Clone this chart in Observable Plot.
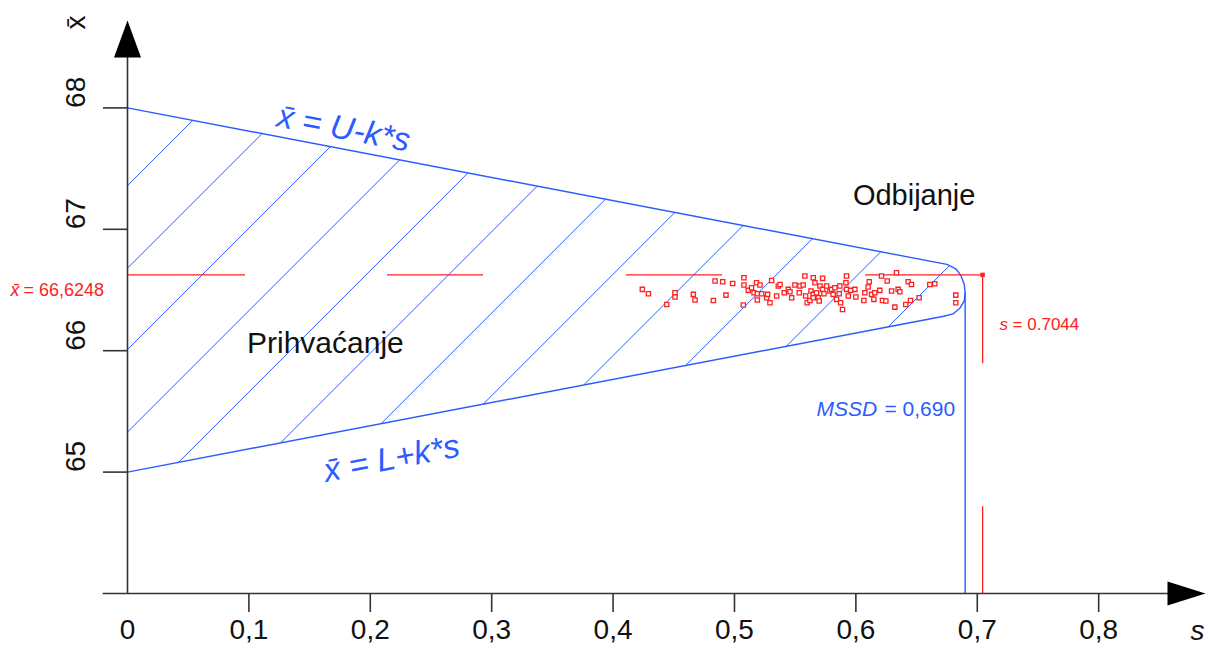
<!DOCTYPE html>
<html><head><meta charset="utf-8">
<script src="https://cdn.jsdelivr.net/npm/d3@7"></script>
<script src="https://cdn.jsdelivr.net/npm/@observablehq/plot@0.6"></script>
<style>body{margin:0;background:#fff}#chart svg{display:block}</style>
</head><body><div id="chart"></div>
<script>
// ---- data ----
const U = 68, L = 65, k = 1.91;
const mssd = 0.690;
const sObs = 0.7044, xbarObs = 66.6248;
const xTicks = [0, 0.1, 0.2, 0.3, 0.4, 0.5, 0.6, 0.7, 0.8];
const xTickLabels = ["0", "0,1", "0,2", "0,3", "0,4", "0,5", "0,6", "0,7", "0,8"];
const yTicks = [65, 66, 67, 68];
const sDomain = [0, 0.888];
const xbarDomain = [64, 68.72];
// rounded cap of acceptance region (s, x̄), from upper line end to lower line end
const capS = [0.675, 0.6823, 0.6866, 0.6893, 0.6900, 0.6893, 0.6858, 0.6800, 0.6724];
const capX = [66.711, 66.675, 66.618, 66.545, 66.478, 66.410, 66.352, 66.303, 66.284];
// hatch lines x̄ = c + slope*s
const hatchIntercepts = [67.36, 66.68, 66.01, 65.33, 64.66, 63.98, 63.31, 62.63, 61.96, 61.28, 60.61, 59.93];
const hatchSlope = 10;
// sample points (s, x̄)
const sampleS = [0.4241,0.4291,0.4510,0.4510,0.4442,0.4661,0.4675,0.4826,0.4840,0.4903,0.4930,0.4985,0.5078,0.5078,0.5073,0.5114,0.5141,0.5161,0.5182,0.5210,0.5188,0.5224,0.5188,0.5265,0.5273,0.5292,0.5306,0.5347,0.5361,0.5375,0.5410,0.5443,0.5457,0.5471,0.5498,0.5534,0.5539,0.5566,0.5580,0.5586,0.5599,0.5621,0.5630,0.5649,0.5663,0.5649,0.5649,0.5676,0.5690,0.5698,0.5704,0.5726,0.5737,0.5726,0.5759,0.5786,0.5800,0.5813,0.5841,0.5827,0.5868,0.5874,0.5863,0.5890,0.5923,0.5918,0.5923,0.5937,0.5956,0.5992,0.6000,0.6066,0.6074,0.6101,0.6110,0.6129,0.6148,0.6156,0.6197,0.6211,0.6219,0.6247,0.6258,0.6294,0.6321,0.6335,0.6348,0.6362,0.6411,0.6431,0.6458,0.6450,0.6521,0.6609,0.6650,0.6823,0.6823];
const sampleX = [66.505,66.469,66.477,66.442,66.381,66.464,66.417,66.414,66.574,66.568,66.458,66.554,66.601,66.541,66.376,66.497,66.519,66.477,66.560,66.541,66.469,66.469,66.417,66.436,66.464,66.395,66.579,66.450,66.533,66.546,66.477,66.505,66.486,66.436,66.541,66.477,66.533,66.541,66.615,66.450,66.395,66.414,66.491,66.601,66.560,66.464,66.436,66.477,66.436,66.409,66.533,66.505,66.469,66.596,66.533,66.491,66.505,66.464,66.423,66.519,66.533,66.395,66.469,66.340,66.615,66.560,66.505,66.450,66.497,66.505,66.442,66.414,66.477,66.524,66.568,66.464,66.423,66.477,66.497,66.615,66.414,66.409,66.574,66.491,66.359,66.642,66.505,66.486,66.381,66.568,66.546,66.414,66.436,66.546,66.552,66.458,66.395];

// ---- derived tables ----
const BLUE = "#2a5cff", RED = "#ff2020", AX = "#333";
const boundary = [{s: 0, x: U}];
capS.forEach((s, i) => boundary.push({s, x: capX[i]}));
boundary.push({s: 0, x: L});
const polygon = boundary.concat([{s: 0, x: U}]);

function clip(c) {
  const ts = [];
  for (let i = 0; i < polygon.length - 1; i++) {
    const a = polygon[i], b = polygon[i + 1];
    const fa = a.x - c - hatchSlope * a.s, fb = b.x - c - hatchSlope * b.s;
    if (fa === fb) continue;
    if ((fa <= 0 && fb >= 0) || (fa >= 0 && fb <= 0)) {
      const u = fa / (fa - fb);
      ts.push(a.s + u * (b.s - a.s));
    }
  }
  if (ts.length < 2) return null;
  const s1 = Math.min(...ts), s2 = Math.max(...ts);
  return {s1, x1: c + hatchSlope * s1, s2, x2: c + hatchSlope * s2};
}
const hatch = hatchIntercepts.map(clip).filter(d => d);
const samples = sampleS.map((s, i) => ({s, x: sampleX[i]})).filter(d => d.x != null);
const xt = xTicks.map((v, i) => ({v, t: xTickLabels[i]}));

const arrowUp = {draw(ctx) { ctx.moveTo(0, 0); ctx.lineTo(13.5, 37); ctx.lineTo(-13.5, 37); ctx.closePath(); }};
const arrowRight = {draw(ctx) { ctx.moveTo(0, 0); ctx.lineTo(-38, 12); ctx.lineTo(-38, -12); ctx.closePath(); }};
const ang = Math.atan(k * (121.4 / 1214)) * 180 / Math.PI;

const chart = Plot.plot({
  width: 1208, height: 650,
  marginLeft: 127, marginRight: 3, marginTop: 20, marginBottom: 57,
  style: {fontFamily: "'Liberation Sans', Arial, sans-serif", background: "#fff"},
  x: {domain: sDomain},
  y: {domain: xbarDomain},
  marks: [
    Plot.link(hatch, {x1: "s1", y1: "x1", x2: "s2", y2: "x2", stroke: BLUE, strokeWidth: 1}),
    Plot.line(boundary, {x: "s", y: "x", stroke: BLUE, strokeWidth: 1.4, curve: "linear"}),
    Plot.ruleX([mssd], {y1: xbarDomain[0], y2: capX[4], stroke: BLUE, strokeWidth: 1.4}),
    Plot.ruleY([xbarObs], {x1: 0, x2: sObs, stroke: RED, strokeWidth: 1.3, strokeDasharray: "118,142,96,143,96,143,117,300"}),
    Plot.ruleX([sObs], {y1: xbarObs, y2: xbarDomain[0], stroke: RED, strokeWidth: 1.3, strokeDasharray: "89,143,100"}),
    Plot.dot(samples, {x: "s", y: "x", symbol: "square", r: 2.4, stroke: RED, strokeWidth: 1.3, fill: "#fff"}),
    Plot.dot([{s: sObs, x: xbarObs}], {x: "s", y: "x", symbol: "square", r: 2.5, fill: RED}),
    // axes
    Plot.ruleX([0], {y1: xbarDomain[0], y2: xbarDomain[1] - 0.2, stroke: AX, strokeWidth: 1.6}),
    Plot.ruleY([xbarDomain[0]], {x1: -0.02, x2: sDomain[1] - 0.02, stroke: AX, strokeWidth: 1.6}),
    Plot.dot([{s: 0, x: xbarDomain[1]}], {x: "s", y: "x", symbol: arrowUp, r: 5, fill: "#000", stroke: "none"}),
    Plot.dot([{s: sDomain[1], x: xbarDomain[0]}], {x: "s", y: "x", symbol: arrowRight, r: 5, fill: "#000", stroke: "none"}),
    Plot.axisX(xTicks.filter(d => d > 0), {tickSize: 19, tickFormat: () => "", stroke: AX, strokeWidth: 1.6}),
    Plot.axisY(yTicks, {tickSize: 24, tickFormat: () => "", stroke: AX, strokeWidth: 1.6}),
    Plot.text(xt, {x: "v", text: "t", frameAnchor: "bottom", dy: 45, fontSize: 28, fill: "#111"}),
    Plot.text(yTicks, {y: d => d, text: d => String(d), frameAnchor: "left", dx: -51, rotate: -90, fontSize: 28, fill: "#111"}),
    Plot.text(["x\u0304"], {frameAnchor: "top-left", dx: -51, dy: 2, rotate: -90, textAnchor: "middle", lineAnchor: "middle", fontSize: 28, fill: "#111"}),
    Plot.text(["s"], {frameAnchor: "bottom-right", dx: -8, dy: 46, textAnchor: "middle", fontSize: 28, fontStyle: "italic", fill: "#111"}),
    // region labels
    Plot.text(["Prihvaćanje"], {x: 0.163, y: 66.064, fontSize: 30, fill: "#111"}),
    Plot.text(["Odbijanje"], {x: 0.648, y: 67.275, fontSize: 29, fill: "#111"}),
    Plot.text(["x\u0304 = U-k*s"], {x: 0.178, y: 67.83, rotate: ang, fontSize: 33, fontStyle: "italic", fill: BLUE}),
    Plot.text(["x\u0304 = L+k*s"], {x: 0.2175, y: 65.11, rotate: -ang, fontSize: 33, fontStyle: "italic", fill: BLUE}),
    // value labels
    Plot.text(["x\u0304"], {x: 0, y: xbarObs, dx: -117, dy: 15, textAnchor: "start", fontSize: 18, fontStyle: "italic", fill: RED}),
    Plot.text(["= 66,6248"], {x: 0, y: xbarObs, dx: -104, dy: 15, textAnchor: "start", fontSize: 18, fill: RED}),
    Plot.text(["s"], {x: sObs, y: xbarObs, dx: 17, dy: 50, textAnchor: "start", fontSize: 17, fontStyle: "italic", fill: RED}),
    Plot.text(["= 0.7044"], {x: sObs, y: xbarObs, dx: 30, dy: 50, textAnchor: "start", fontSize: 17, fill: RED}),
    Plot.text(["MSSD"], {x: mssd, y: 65.52, dx: -88, textAnchor: "end", fontSize: 21, fontStyle: "italic", fill: BLUE}),
    Plot.text(["= 0,690"], {x: mssd, y: 65.52, dx: -10, textAnchor: "end", fontSize: 21, fill: BLUE})
  ]
});
document.getElementById("chart").appendChild(chart);
</script>
</body></html>
